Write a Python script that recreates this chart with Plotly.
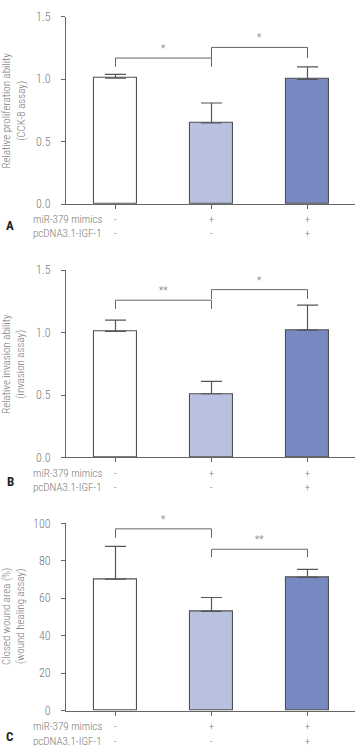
import plotly.graph_objects as go

# ---- data ----
groups = [0, 1, 2]
mimics_signs = ["-", "+", "+"]
igf_signs = ["-", "-", "+"]
bar_colors = ["#ffffff", "#b8c1df", "#7889c1"]

prolif_vals = [1.01, 0.65, 1.00]
prolif_err = [0.03, 0.16, 0.10]
prolif_sig = [(0, 1, 1.17, 1.10, 1.10, "*"), (1, 2, 1.255, 1.17, 1.17, "*")]

invasion_vals = [1.01, 0.51, 1.02]
invasion_err = [0.09, 0.10, 0.20]
invasion_sig = [(0, 1, 1.26, 1.19, 1.19, "**"), (1, 2, 1.345, 1.27, 1.27, "*")]

wound_vals = [70.2, 53.0, 71.2]
wound_err = [17.5, 7.4, 4.2]
wound_sig = [(0, 1, 97.1, 92.4, 92.4, "*"), (1, 2, 86.2, 81.9, 81.9, "**")]

W, H = 355, 746
FONT = "Roboto Condensed, Liberation Sans Narrow, sans-serif"
GREY = "#7a7a7a"
LINE = "#666666"

fig = go.Figure()

panels = [
    dict(vals=prolif_vals, err=prolif_err, sig=prolif_sig, rng=[0, 1.5], dtick=0.5, fmt=".1f",
         top=10, bot=201, title="Relative proliferation ability<br>(CCK-8 assay)", letter="A",
         lab1=216.7, lab2=231, letter_y=223),
    dict(vals=invasion_vals, err=invasion_err, sig=invasion_sig, rng=[0, 1.5], dtick=0.5, fmt=".1f",
         top=268.3, bot=459, title="Relative invasion ability<br>(invasion assay)", letter="B",
         lab1=475, lab2=490, letter_y=484),
    dict(vals=wound_vals, err=wound_err, sig=wound_sig, rng=[0, 100], dtick=20, fmt="d",
         top=526.3, bot=717, title="Closed wound area (%)<br>(wound healing assay)", letter="C",
         lab1=733.3, lab2=749, letter_y=743),
]

x0px, spacing, c0 = 66, 96, 115.5
xrange = [(x0px - c0) / spacing, (W - c0) / spacing]

annotations = []
for k, p in enumerate(panels):
    n = "" if k == 0 else str(k + 1)
    xa, ya = "x" + n, "y" + n
    fig.add_trace(go.Bar(
        x=groups, y=p["vals"], width=0.44, xaxis=xa, yaxis=ya,
        marker=dict(color=bar_colors, line=dict(color="#505050", width=1.1)),
        error_y=dict(type="data", array=p["err"], arrayminus=[0] * 3, symmetric=False,
                     color="#555555", thickness=1.2, width=10.5),
        showlegend=False, hoverinfo="skip"))
    for (i, j, ytop, yl, yr, lab) in p["sig"]:
        fig.add_trace(go.Scatter(
            x=[i, i, j, j], y=[yl, ytop, ytop, yr], mode="lines", xaxis=xa, yaxis=ya,
            line=dict(color=LINE, width=1), showlegend=False, hoverinfo="skip"))
        annotations.append(dict(x=(i + j) / 2, y=ytop, xref=xa, yref=ya, text=lab,
                                showarrow=False, yanchor="bottom", yshift=2,
                                font=dict(size=10, color=GREY, family=FONT, weight=300)))
    dom = [1 - p["bot"] / H, 1 - p["top"] / H]
    fig.update_layout(**{
        ("xaxis" + n): dict(domain=[x0px / W, 1], range=xrange, showgrid=False, zeroline=False,
                            showline=True, linecolor=LINE, linewidth=1, tickmode="array",
                            tickvals=groups, ticktext=["", "", ""], ticks="outside",
                            ticklen=4, tickcolor=LINE, anchor=ya, fixedrange=True),
        ("yaxis" + n): dict(domain=dom, range=p["rng"], dtick=p["dtick"], tickformat=p["fmt"],
                            showgrid=False, zeroline=False, showline=True, linecolor=LINE,
                            linewidth=1, ticks="outside", ticklen=4, tickcolor=LINE,
                            ticklabelstandoff=8,
                            tickfont=dict(size=12, color=GREY, family=FONT, weight=300), anchor=xa,
                            fixedrange=True),
    })
    # y-axis title
    annotations.append(dict(x=14 / W, y=1 - (p["top"] + p["bot"]) / 2 / H, xref="paper", yref="paper",
                            text=p["title"], textangle=-90, showarrow=False,
                            xanchor="center", yanchor="middle",
                            font=dict(size=11, color=GREY, family=FONT, weight=300)))
    # row labels
    for txt, ypx, signs in (("miR-379 mimics", p["lab1"], mimics_signs),
                            ("pcDNA3.1-IGF-1", p["lab2"], igf_signs)):
        annotations.append(dict(x=31 / W, y=1 - ypx / H, xref="paper", yref="paper", text=txt,
                                showarrow=False, xanchor="left", yanchor="middle",
                                font=dict(size=11, color=GREY, family=FONT, weight=300)))
        for g, s in zip(groups, signs):
            annotations.append(dict(x=g, y=1 - ypx / H, xref=xa, yref="paper", text=s,
                                    showarrow=False, xanchor="center", yanchor="middle",
                                    font=dict(size=10, color=GREY, family=FONT, weight=300)))
    annotations.append(dict(x=10 / W, y=1 - p["letter_y"] / H, xref="paper", yref="paper",
                            text="<b>" + p["letter"] + "</b>", showarrow=False,
                            xanchor="center", yanchor="middle",
                            font=dict(size=13, color="#222222", family="Roboto Condensed, Liberation Sans, sans-serif")))

fig.update_layout(width=W, height=H, margin=dict(l=0, r=0, t=0, b=0),
                  paper_bgcolor="white", plot_bgcolor="white", annotations=annotations,
                  bargap=0)
fig.write_html("out.html")
